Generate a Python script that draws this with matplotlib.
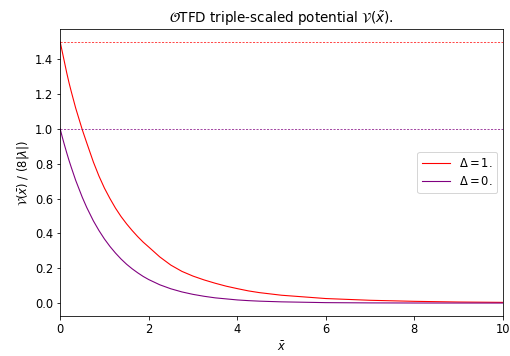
import numpy as np
import matplotlib
matplotlib.use("Agg")
import matplotlib.pyplot as plt

# values
x_vals = [0.0, 0.05, 0.1, 0.15, 0.2, 0.25, 0.35, 0.5, 0.6, 0.75, 0.875, 1.0,
          1.125, 1.25, 1.375, 1.5, 1.625, 1.75, 1.875, 2.0, 2.25, 2.5, 2.75,
          3.0, 3.25, 3.5, 3.75, 4.0, 4.25, 4.5, 5.0, 6.0, 7.0, 8.0, 9.0, 10.0]
v_delta1 = [1.5, 1.44, 1.38, 1.32, 1.265, 1.215, 1.12, 0.995, 0.92, 0.81,
            0.73, 0.66, 0.60, 0.545, 0.497, 0.455, 0.417, 0.382, 0.35, 0.322,
            0.265, 0.218, 0.182, 0.155, 0.133, 0.114, 0.097, 0.083, 0.07,
            0.06, 0.045, 0.026, 0.016, 0.01, 0.006, 0.004]
v_delta0 = [1.0, 0.951, 0.905, 0.861, 0.819, 0.78, 0.705, 0.607, 0.549, 0.472,
            0.417, 0.368, 0.325, 0.287, 0.253, 0.223, 0.197, 0.174, 0.153,
            0.135, 0.105, 0.082, 0.064, 0.05, 0.039, 0.03, 0.024, 0.018, 0.014,
            0.011, 0.007, 0.0025, 0.001, 0.0004, 0.0002, 0.0001]
v0_delta1 = 1.5
v0_delta0 = 1.0

plt.rcParams['font.size'] = 11.5

fig = plt.figure(figsize=(510 / 72, 356 / 72), dpi=72)
ax = fig.add_subplot(111)
fig.subplots_adjust(left=0.118, right=0.986, bottom=0.112, top=0.919)

ax.plot(x_vals, v_delta1, color="red", lw=1.1, label=r"$\Delta = 1.$")
ax.plot(x_vals, v_delta0, color="purple", lw=1.1, label=r"$\Delta = 0.$")
ax.axhline(v0_delta1, color="red", ls="--", lw=0.7, dashes=(3, 2))
ax.axhline(v0_delta0, color="purple", ls="--", lw=0.7, dashes=(3, 2))

ax.set_xlim(0, 10)
ax.set_ylim(-0.075, 1.575)
ax.set_title(r"$\mathcal{O}$TFD triple-scaled potential $\mathcal{V}(\tilde{x})$.", fontsize=13.5)
ax.set_xlabel(r"$\bar{x}$")
ax.set_ylabel(r"$\mathcal{V}(\bar{x})$ / $(8|\lambda|)$")
ax.legend(loc="center right", handlelength=2.4)

fig.savefig("out.png", dpi=72)
